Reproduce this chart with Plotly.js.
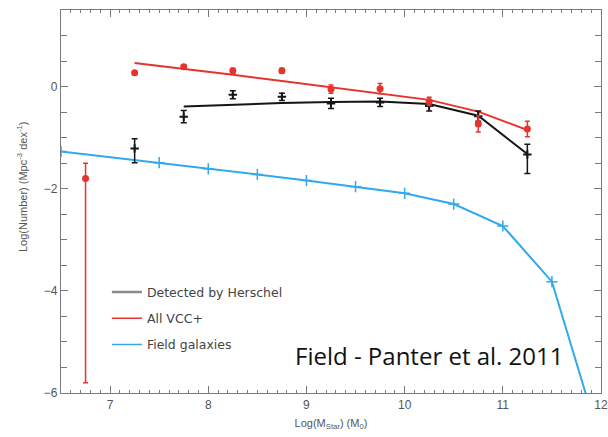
<!DOCTYPE html>
<html>
<head>
<meta charset="utf-8">
<script src="https://cdn.plot.ly/plotly-3.0.1.min.js"></script>
<style>html,body{margin:0;padding:0;background:#fff;}#chart{width:608px;height:437px;}</style>
</head>
<body>
<div id="chart"></div>
<script>
// Bin centres (log stellar mass)
const binsAll = [7.25, 7.75, 8.25, 8.75, 9.25, 9.75, 10.25, 10.75, 11.25];
const binsHerschel = [7.75, 8.25, 8.75, 9.25, 9.75, 10.25, 10.75, 11.25];

// Fits
const fitVCC = [0.46, 0.35, 0.23, 0.11, -0.01, -0.13, -0.26, -0.49, -0.85];
const fitHerschel = [-0.39, -0.35, -0.32, -0.30, -0.29, -0.34, -0.57, -1.32];

// Data points: All VCC+ (red)
const vccX = [6.75, 7.25, 7.75, 8.25, 8.75, 9.25, 9.75, 10.25, 10.75, 11.25];
const vccY = [-1.80, 0.27, 0.39, 0.31, 0.31, -0.05, -0.04, -0.29, -0.73, -0.83];
const vccErrPlus = [0.30, 0.04, 0.04, 0.05, 0.05, 0.08, 0.10, 0.08, 0.16, 0.15];
const vccErrMinus = [4.00, 0.04, 0.04, 0.05, 0.05, 0.08, 0.10, 0.08, 0.16, 0.15];

// Data points: Detected by Herschel (black)
const herX = [7.25, 7.75, 8.25, 8.75, 9.25, 9.75, 10.25, 10.75, 11.25];
const herY = [-1.21, -0.59, -0.16, -0.20, -0.33, -0.31, -0.38, -0.58, -1.33];
const herErrPlus = [0.19, 0.12, 0.08, 0.07, 0.10, 0.08, 0.10, 0.10, 0.20];
const herErrMinus = [0.28, 0.12, 0.08, 0.07, 0.10, 0.08, 0.10, 0.10, 0.37];

// Field galaxies (Panter et al. 2011)
const fieldX = [6.5, 7.5, 8.0, 8.5, 9.0, 9.5, 10.0, 10.5, 11.0, 11.5, 12.0];
const fieldY = [-1.27, -1.49, -1.61, -1.72, -1.84, -1.96, -2.09, -2.30, -2.73, -3.82, -7.0];

const legendNames = ['Detected by Herschel', 'All VCC+', 'Field galaxies'];

const RED = '#e8332c';
const BLACK = '#151515';
const BLUE = '#31a9ec';
const AXIS = '#7a7a7a';

const traces = [
  {x: binsHerschel, y: fitHerschel, mode: 'lines', line: {color: BLACK, width: 2}, showlegend: false},
  {x: binsAll, y: fitVCC, mode: 'lines', line: {color: RED, width: 2}, showlegend: false},
  {x: fieldX, y: fieldY, mode: 'lines+markers', line: {color: BLUE, width: 2},
   marker: {symbol: 'cross-thin', size: 8, line: {color: BLUE, width: 1.5}}, showlegend: false},
  {x: herX, y: herY, mode: 'markers', marker: {symbol: 'cross-thin', size: 6, line: {color: BLACK, width: 2}},
   error_y: {type: 'data', symmetric: false, array: herErrPlus, arrayminus: herErrMinus, color: BLACK, thickness: 1.5, width: 3},
   showlegend: false},
  {x: vccX, y: vccY, mode: 'markers', marker: {symbol: 'circle', size: 7, color: RED},
   error_y: {type: 'data', symmetric: false, array: vccErrPlus, arrayminus: vccErrMinus, color: RED, thickness: 1.5, width: 2.5},
   showlegend: false},
  {x: [null], y: [null], mode: 'lines', name: legendNames[0], line: {color: '#8a8a8a', width: 2.5}, legendgroup: 'a'},
  {x: [null], y: [null], mode: 'lines', name: legendNames[1], line: {color: RED, width: 1.5}, legendgroup: 'b'},
  {x: [null], y: [null], mode: 'lines', name: legendNames[2], line: {color: BLUE, width: 1.5}, legendgroup: 'c'}
];

const tickFont = {family: 'Liberation Sans, Arial, sans-serif', size: 12, color: '#555'};
const minorX = {dtick: 0.1, ticks: 'inside', ticklen: 3, tickcolor: AXIS, showgrid: false};
const minorY = {dtick: 0.5, ticks: 'inside', ticklen: 6, tickcolor: AXIS, showgrid: false};

const layout = {
  width: 608, height: 437,
  margin: {l: 61, r: 7, t: 10, b: 44},
  paper_bgcolor: '#fff', plot_bgcolor: '#fff',
  showlegend: true,
  legend: {x: 0.085, y: 0.302, xanchor: 'left', yanchor: 'top', bgcolor: 'rgba(0,0,0,0)',
           font: {family: 'DejaVu Sans, sans-serif', size: 12.5, color: '#444'},
           traceorder: 'grouped', tracegroupgap: 7},
  xaxis: {range: [6.5, 12], tick0: 0, dtick: 1, ticks: 'inside', ticklen: 7, tickwidth: 1, tickcolor: AXIS,
          showline: true, linecolor: AXIS, linewidth: 1.2, mirror: 'ticks', showgrid: false, zeroline: false,
          tickfont: tickFont, minor: minorX,
          title: {text: 'Log(M<sub>Star</sub>) (M<sub>0</sub>)', standoff: 8,
                  font: {family: 'Liberation Sans, Arial, sans-serif', size: 11, color: '#555'}}},
  xaxis2: {overlaying: 'x', side: 'top', anchor: 'y', range: [6.5, 12], tick0: 0, dtick: 1, ticks: 'inside',
           ticklen: 7, tickcolor: AXIS, showticklabels: false, showgrid: false, zeroline: false, showline: false,
           minor: minorX},
  yaxis: {range: [-6, 1.5], tick0: 0, dtick: 2, ticks: 'inside', ticklen: 7, tickwidth: 1, tickcolor: AXIS,
          showline: true, linecolor: AXIS, linewidth: 1.2, mirror: 'ticks', showgrid: false, zeroline: false,
          tickfont: tickFont, minor: minorY},
  yaxis2: {overlaying: 'y', side: 'right', anchor: 'x', range: [-6, 1.5], tick0: 0, dtick: 2, ticks: 'inside',
           ticklen: 7, tickcolor: AXIS, showticklabels: false, showgrid: false, zeroline: false, showline: false,
           minor: minorY},
  annotations: [
    {text: 'Log(Number) (Mpc<sup>-3</sup> dex<sup>-1</sup>)', xref: 'paper', yref: 'paper',
     x: -0.072, y: 0.538, xanchor: 'center', yanchor: 'middle', textangle: -90, showarrow: false,
     font: {family: 'Liberation Sans, Arial, sans-serif', size: 11, color: '#555'}},
    {text: 'Field - Panter et al. 2011', xref: 'paper', yref: 'paper',
     x: 0.935, y: 0.097, xanchor: 'right', yanchor: 'middle', showarrow: false,
     font: {family: 'Open Sans, sans-serif', size: 24, color: '#111'}}
  ]
};

Plotly.newPlot('chart', traces, layout, {staticPlot: true});
</script>
</body>
</html>
